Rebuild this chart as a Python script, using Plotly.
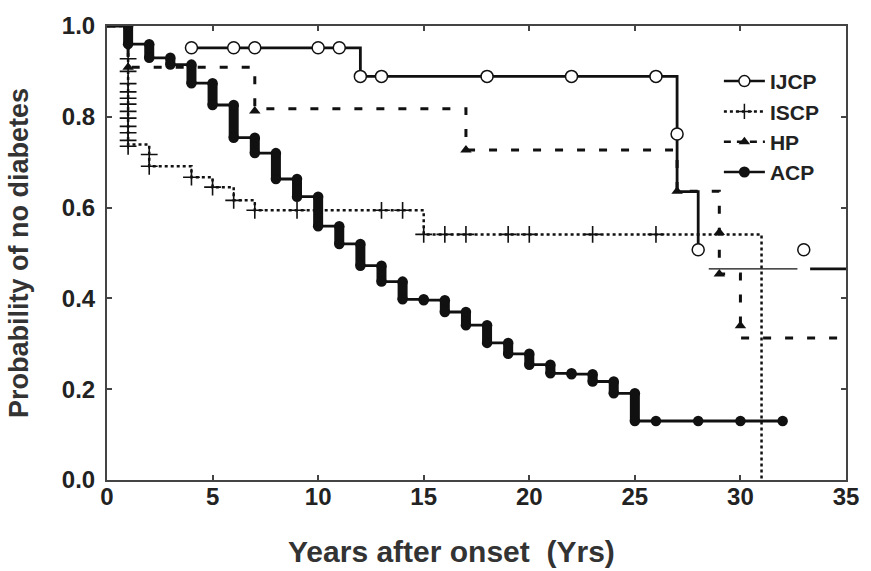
import plotly.graph_objects as go

# ---- Kaplan-Meier curves: years after onset vs. probability of no diabetes ----
# IJCP (open circles, solid line)
ijcp_x = [4, 12, 27, 28]
ijcp_y = [0.952, 0.889, 0.635, 0.507]
ijcp_mark_x = [4, 6, 7, 10, 11, 12, 13, 18, 22, 26, 27, 28, 33]
ijcp_mark_y = [0.952, 0.952, 0.952, 0.952, 0.952, 0.889, 0.889, 0.889, 0.889, 0.889, 0.762, 0.507, 0.507]
ijcp_tail_thin_x = [28.5, 32.7]
ijcp_tail_thick_x = [33.3, 35]
ijcp_tail_y = [0.465, 0.465]

# ISCP (plus marks, dotted line)
iscp_x = [0, 1, 2, 4, 5, 6, 7, 15, 31]
iscp_y = [1.0, 0.739, 0.691, 0.667, 0.645, 0.616, 0.594, 0.541, 0.0]
iscp_mark_x = [1, 1, 1, 1, 1, 1, 1, 1, 1, 1, 1, 1,
               2, 2, 4, 5, 6, 7, 9, 13, 14,
               15, 16, 17, 19, 20, 23, 26]
iscp_mark_y = [0.928, 0.900, 0.873, 0.855, 0.841, 0.828, 0.812, 0.797, 0.779, 0.765, 0.748, 0.735,
               0.717, 0.691, 0.667, 0.645, 0.616, 0.594, 0.594, 0.594, 0.594,
               0.541, 0.541, 0.541, 0.541, 0.541, 0.541, 0.541]

# HP (triangles, dashed line)
hp_x = [0, 1, 7, 17, 27, 29, 30, 35]
hp_y = [1.0, 0.909, 0.818, 0.727, 0.636, 0.454, 0.313, 0.313]
hp_mark_x = [1, 7, 17, 27, 29, 29, 30]
hp_mark_y = [0.909, 0.813, 0.727, 0.636, 0.545, 0.454, 0.34]

# ACP (filled circles, solid line)
acp_x = [0, 1, 2, 3, 4, 5, 6, 7, 8, 9, 10, 11, 12, 13, 14, 15, 16, 17, 18,
         19, 20, 21, 22, 23, 24, 25, 32]
acp_y = [1.0, 0.96, 0.93, 0.915, 0.874, 0.826, 0.754, 0.72, 0.663, 0.624,
         0.559, 0.52, 0.472, 0.437, 0.398, 0.396, 0.37, 0.341, 0.302, 0.278,
         0.254, 0.235, 0.233, 0.217, 0.191, 0.13, 0.13]
acp_cens_x = [26, 28, 30, 32]
acp_cens_y = [0.13, 0.13, 0.13, 0.13]

x_ticks = [0, 5, 10, 15, 20, 25, 30, 35]
y_ticks = [0.0, 0.2, 0.4, 0.6, 0.8, 1.0]

INK = "#111111"
AXIS = "#444444"
FONT = "Liberation Sans, Arial, sans-serif"

fig = go.Figure()

# legend entries (drawn in legend only)
legend_specs = [
    ("IJCP", "solid", "circle", "white", 11, 1.5),
    ("ISCP", "3px,3px", "cross-thin", INK, 11, 1.5),
    ("HP", "7px,6px", "triangle-up", INK, 10, 0),
    ("ACP", "solid", "circle", INK, 11, 0),
]
for name, dash, sym, fill, size, mlw in legend_specs:
    fig.add_trace(go.Scatter(
        x=[None], y=[None], name=name, mode="lines+markers",
        line=dict(color=INK, width=2.5, dash=dash),
        marker=dict(symbol=sym, color=fill, size=size,
                    line=dict(color=INK, width=mlw if mlw else 0)),
    ))

# ISCP
fig.add_trace(go.Scatter(
    x=iscp_x, y=iscp_y, mode="lines", line_shape="hv", showlegend=False,
    line=dict(color=INK, width=2.5, dash="3px,3px"),
))
fig.add_trace(go.Scatter(
    x=iscp_mark_x, y=iscp_mark_y, mode="markers", showlegend=False,
    marker=dict(symbol="cross-thin", size=12, color=INK, line=dict(color=INK, width=1.6)),
))

# HP
fig.add_trace(go.Scatter(
    x=hp_x, y=hp_y, mode="lines", line_shape="hv", showlegend=False,
    line=dict(color=INK, width=3, dash="8px,14px"),
))
fig.add_trace(go.Scatter(
    x=hp_mark_x, y=hp_mark_y, mode="markers", showlegend=False,
    marker=dict(symbol="triangle-up", size=10, color=INK),
))

# IJCP
fig.add_trace(go.Scatter(
    x=ijcp_x, y=ijcp_y, mode="lines", line_shape="hv", showlegend=False,
    line=dict(color=INK, width=2.8),
))
fig.add_trace(go.Scatter(
    x=ijcp_tail_thin_x, y=ijcp_tail_y, mode="lines", showlegend=False,
    line=dict(color=INK, width=1.2),
))
fig.add_trace(go.Scatter(
    x=ijcp_tail_thick_x, y=ijcp_tail_y, mode="lines", showlegend=False,
    line=dict(color=INK, width=2.8),
))
fig.add_trace(go.Scatter(
    x=ijcp_mark_x, y=ijcp_mark_y, mode="markers", showlegend=False,
    marker=dict(symbol="circle", size=12, color="white", line=dict(color=INK, width=1.5)),
))

# ACP step line
fig.add_trace(go.Scatter(
    x=acp_x, y=acp_y, mode="lines", line_shape="hv", showlegend=False,
    line=dict(color=INK, width=2.8),
))
# ACP event clusters: heavy vertical bars capped by filled circles
bar_x, bar_y, dot_x, dot_y = [], [], [], []
for i in range(1, len(acp_x) - 1):
    bar_x += [acp_x[i], acp_x[i], None]
    bar_y += [acp_y[i - 1], acp_y[i], None]
    dot_x += [acp_x[i], acp_x[i]]
    dot_y += [acp_y[i - 1], acp_y[i]]
fig.add_trace(go.Scatter(
    x=bar_x, y=bar_y, mode="lines", showlegend=False,
    line=dict(color=INK, width=10),
))
fig.add_trace(go.Scatter(
    x=dot_x + acp_cens_x, y=dot_y + acp_cens_y, mode="markers", showlegend=False,
    marker=dict(symbol="circle", size=10.5, color=INK),
))

axis_common = dict(
    showline=True, linecolor=AXIS, linewidth=2, mirror="ticks",
    ticks="inside", ticklen=5, tickwidth=1.5, tickcolor=AXIS,
    showgrid=False, zeroline=False,
    tickfont=dict(family=FONT, size=24, color="#222222", weight="bold"),
)

fig.update_layout(
    width=871, height=571,
    margin=dict(l=107, r=14, t=20, b=91),
    paper_bgcolor="white", plot_bgcolor="white",
    font=dict(family=FONT, color="#222222"),
    xaxis=dict(range=[0, 35], tickvals=x_ticks, ticklabelstandoff=-6, **axis_common),
    yaxis=dict(
        range=[0, 1], tickvals=y_ticks, tickformat=".1f", ticklabelstandoff=5,
        title=dict(text="Probability of no diabetes", standoff=25,
                   font=dict(family=FONT, size=27, color="#333333", weight="bold")),
        **axis_common,
    ),
    legend=dict(
        x=0.828, y=0.923, xanchor="left", yanchor="top",
        bgcolor="rgba(0,0,0,0)", borderwidth=0, itemwidth=41,
        tracegroupgap=0,
        font=dict(family=FONT, size=21, color="#222222", weight="bold"),
    ),
    annotations=[dict(
        text="Years after onset\u00a0 (Yrs)", xref="paper", yref="paper",
        x=0.4667, y=-0.1565, xanchor="center", yanchor="middle", showarrow=False,
        font=dict(family=FONT, size=30, color="#333333", weight="bold"),
    )],
)

fig.write_html("out.html")
